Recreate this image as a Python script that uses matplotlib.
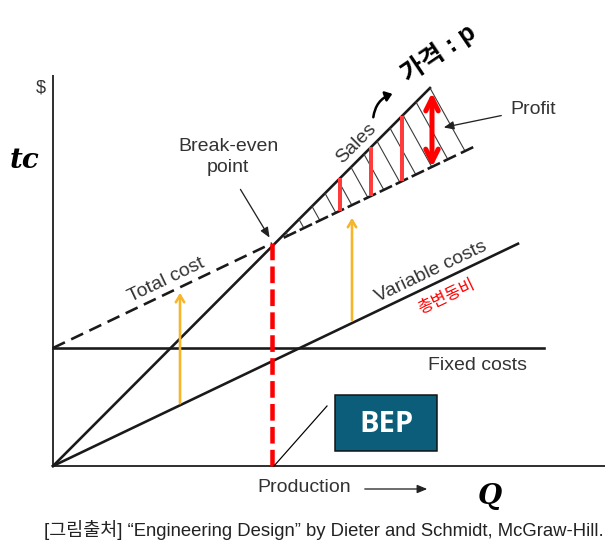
import matplotlib.pyplot as plt
from matplotlib.patches import Rectangle, FancyArrowPatch
import numpy as np

plt.rcParams['font.family'] = ['Liberation Sans', 'Noto Sans CJK KR', 'DejaVu Sans']
plt.rcParams['lines.scale_dashes'] = False

# values (Q = production, $ = money)
fixed_cost = 118
var_rate = 0.478
q_end_var = 465
q_end_fixed = 491
sales_q = [0, 377]
sales_v = [0, 378]
bep_q, bep_v = 219, 223
axis_q_max = 552
axis_v_max = 391

hatch_q = [233, 246, 259, 272, 285, 298, 311, 324, 337, 350, 363, 377]
hatch_slope = 1.8
red_q = [287, 318, 349]
profit_q = 379
profit_v = [296, 376]
yellow_q = [127, 299]
yellow_lo = [60, 143]
yellow_hi = [176, 251]

ink = '#333333'
px = 0.72  # points per pixel at dpi 100

fig = plt.figure(figsize=(6.11, 5.43), dpi=100)
ax = fig.add_axes([0, 0, 1, 1])
ax.set_xlim(-53, 558)
ax.set_ylim(-77, 466)
ax.axis('off')

def sales(q):
    return np.asarray(q) * sales_v[1] / sales_q[1]

def total(q):
    return fixed_cost + var_rate * np.asarray(q)

# axes
ax.plot([0, axis_q_max], [0, 0], color=ink, lw=2 * px, solid_capstyle='butt')
ax.plot([0, 0], [0, axis_v_max], color=ink, lw=2 * px, solid_capstyle='butt')

# cost / revenue lines
ax.plot([0, q_end_fixed], [fixed_cost, fixed_cost], color='#1a1a1a', lw=2.6 * px)
ax.plot([0, q_end_var], [0, var_rate * q_end_var], color='#1a1a1a', lw=2.6 * px)
ax.plot(sales_q, sales_v, color='#1a1a1a', lw=2.6 * px)
ax.plot([0, bep_q], [fixed_cost, total(bep_q)], color='#1a1a1a', lw=2.6 * px,
        dashes=(9.5, 5))

# hatching of profit area
for q in hatch_q:
    v0 = sales(q)
    t = (v0 - total(q)) / (hatch_slope + var_rate)
    q1, v1 = q + t, v0 - hatch_slope * t
    ax.plot([q, q1], [v0, v1], color='#3a3a3a', lw=1.1 * px)
    ax.plot([q1 - 3, q1 + 7], [total(q1 - 3), total(q1 + 7)], color='#1a1a1a', lw=2.6 * px)

# red markings
for q in red_q:
    ax.plot([q, q], [total(q), sales(q)], color='#ff3b3b', lw=4 * px, solid_capstyle='butt')
ax.annotate('', xy=(profit_q, profit_v[1]), xytext=(profit_q, profit_v[0]),
            arrowprops=dict(arrowstyle='<->,head_length=0.9,head_width=0.45',
                            color='#ff0000', lw=5 * px))
ax.plot([bep_q, bep_q], [0, bep_v], color='#ff0000', lw=4.5 * px, dashes=(12, 4.5))

# yellow arrows (fixed cost gap)
for q, lo, hi in zip(yellow_q, yellow_lo, yellow_hi):
    ax.annotate('', xy=(q, hi), xytext=(q, lo),
                arrowprops=dict(arrowstyle='->,head_length=0.5,head_width=0.3',
                                color='#f7b52c', lw=2.6 * px))

# labels
ax.text(-12, 378, '$', fontsize=13, color=ink, ha='center', va='center')
ax.text(-28, 306, 'tc', fontsize=20, fontweight='bold', fontstyle='italic',
        color='black', ha='center', va='center', family='DejaVu Serif')
ax.text(175, 309, 'Break-even\npoint', fontsize=14, color=ink, ha='center', va='center',
        linespacing=1.3)
ax.annotate('', xy=(218, 226), xytext=(186, 279),
            arrowprops=dict(arrowstyle='-|>,head_length=0.6,head_width=0.25',
                            color='#222222', lw=1.3 * px))
ax.text(303, 323, 'Sales', fontsize=14, color=ink, ha='center', va='center', rotation=45)
ax.add_patch(FancyArrowPatch((320, 346), (342, 373), connectionstyle='arc3,rad=-0.35',
                             arrowstyle='-|>,head_length=4,head_width=3',
                             color='black', lw=2.5 * px))
ax.text(385, 413, '가격 : p', fontsize=18, fontweight='bold', color='black',
        ha='center', va='center', rotation=34)
ax.text(480, 356, 'Profit', fontsize=14, color=ink, ha='center', va='center')
ax.annotate('', xy=(388, 338), xytext=(451, 351),
            arrowprops=dict(arrowstyle='-|>,head_length=0.6,head_width=0.25',
                            color='#222222', lw=1.3 * px))
ax.text(113, 186, 'Total cost', fontsize=14, color=ink, ha='center', va='center',
        rotation=25.5)
ax.text(378, 194, 'Variable costs', fontsize=14, color=ink, ha='center', va='center',
        rotation=25.5)
ax.text(394, 169, '총변동비', fontsize=12, color='#ff0000', ha='center', va='center',
        rotation=25.5)
ax.text(425, 101, 'Fixed costs', fontsize=14, color=ink, ha='center', va='center')

# BEP box
ax.add_patch(Rectangle((282, 15), 102, 56, facecolor='#0b5d79', edgecolor='#111111',
                       lw=1.5 * px))
ax.text(333, 42, 'BEP', fontsize=21, fontweight='bold', color='white',
        ha='center', va='center', family='Open Sans')
ax.plot([bep_q + 2, 274], [0, 60], color='black', lw=1.2 * px)

# x-axis label
ax.text(251, -21, 'Production', fontsize=14, color=ink, ha='center', va='center')
ax.annotate('', xy=(377, -23), xytext=(309, -23),
            arrowprops=dict(arrowstyle='-|>,head_length=0.6,head_width=0.25',
                            color='#222222', lw=1.3 * px))
ax.text(437, -31, 'Q', fontsize=20, fontweight='bold', fontstyle='italic',
        color='black', ha='center', va='center', family='DejaVu Serif')

ax.text(271, -64, '[그림출처] \u201cEngineering Design\u201d by Dieter and Schmidt, McGraw-Hill.',
        fontsize=13.3, color='#222222', ha='center', va='center')

fig.savefig('out.png', dpi=100)
